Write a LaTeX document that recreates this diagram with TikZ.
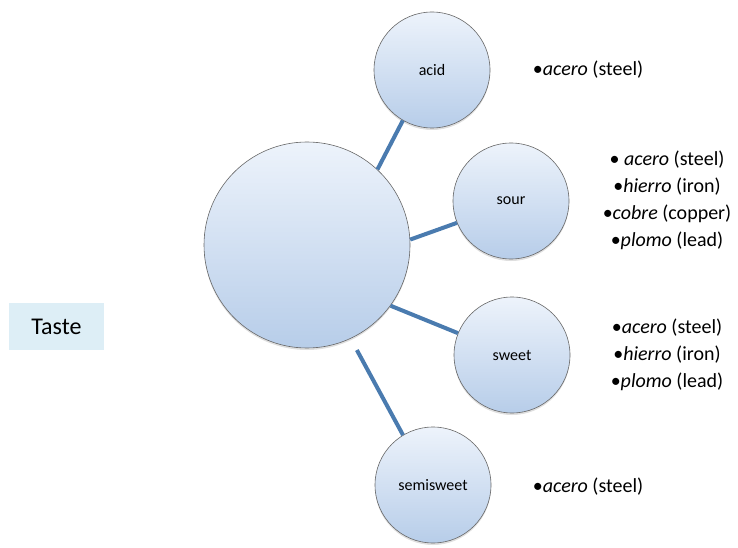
\documentclass[tikz,border=0pt]{standalone}
\usepackage{fontspec}
\setmainfont{Carlito}
\usetikzlibrary{shadows}
\definecolor{linkblue}{HTML}{4A7BAF}
\definecolor{bubbletop}{HTML}{EDF3FB}
\definecolor{bubblebot}{HTML}{B7CDE9}
\definecolor{tastefill}{HTML}{DDEEF6}

\begin{document}
\begin{tikzpicture}[x=1pt,y=1pt,yscale=-1,xscale=1]
\useasboundingbox (0,0) rectangle (738,548);
\tikzset{
  bubble/.style={circle, draw=black!60, line width=0.6pt, inner sep=0pt,
    top color=bubbletop, bottom color=bubblebot,
    drop shadow={opacity=0.25, shadow xshift=0pt, shadow yshift=-2pt},
    font=\fontsize{16}{18}\selectfont},
  link/.style={line width=4pt, draw=linkblue},
  metals/.style={align=center, font=\fontsize{20}{27}\selectfont}
}

%Shape: Rectangle [Taste]
\node[fill=tastefill, minimum width=95, minimum height=47, font=\fontsize{24}{26}\selectfont] (taste) at (56.5,326.5) {Taste};

%Shape: Circle [centre]
\node[bubble, minimum size=206] (centre) at (307,245) {};
%Shape: Circle [acid]
\node[bubble, minimum size=116] (acid) at (432,70) {acid};
%Shape: Circle [sour]
\node[bubble, minimum size=116] (sour) at (511,201) {sour};
%Shape: Circle [sweet]
\node[bubble, minimum size=116] (sweet) at (512,355) {sweet};
%Shape: Circle [semisweet]
\node[bubble, minimum size=116] (semisweet) at (433,485) {semisweet};

%Straight Lines
\draw[link] (centre.47) -- (acid.240);
%Straight Lines
\draw[link] (centre.3) -- (sour.202);
%Straight Lines
\draw[link] (centre.-36) -- (sweet.158);
%Straight Lines
\draw[link, shorten <=13pt] (centre.-65) -- (semisweet.121);

%Text lists
\node[metals] (acidlist) at (588,70) {•\textit{acero} (steel)};
\node[metals] (sourlist) at (667,200.5) {• \textit{acero} (steel)\\•\textit{hierro} (iron)\\•\textit{cobre} (copper)\\•\textit{plomo} (lead)};
\node[metals] (sweetlist) at (667,354.5) {•\textit{acero} (steel)\\•\textit{hierro} (iron)\\•\textit{plomo} (lead)};
\node[metals] (semilist) at (588,487) {•\textit{acero} (steel)};

\end{tikzpicture}
\end{document}
